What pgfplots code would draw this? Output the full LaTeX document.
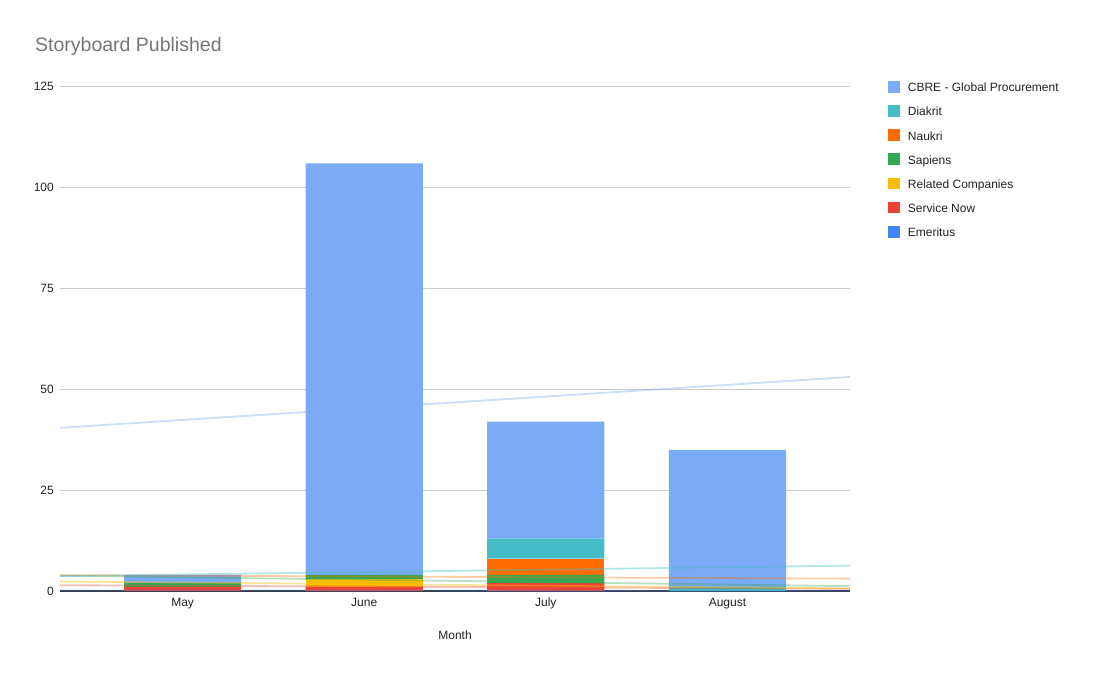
\documentclass[border=0pt]{standalone}
\usepackage{pgfplots}
\pgfplotsset{compat=1.18}
\usepackage{fontspec}
\setmainfont{Liberation Sans}
\definecolor{cbre}{HTML}{7BAAF7}
\definecolor{diakrit}{HTML}{46BDC6}
\definecolor{naukri}{HTML}{FF6D01}
\definecolor{sapiens}{HTML}{34A853}
\definecolor{related}{HTML}{FBBC04}
\definecolor{servicenow}{HTML}{EA4335}
\definecolor{emeritus}{HTML}{4285F4}
\definecolor{titlegray}{HTML}{757575}
\definecolor{gridgray}{HTML}{CCCCCC}
\definecolor{axisdark}{HTML}{333333}
\definecolor{textdark}{HTML}{222222}
\begin{document}
\begin{tikzpicture}[x=1bp,y=1bp]
\useasboundingbox (0,0) rectangle (1096,-677);
\node[anchor=base west, text=titlegray, font=\fontsize{19.5bp}{22bp}\selectfont, inner sep=0pt] at (35,-51.7) {Storyboard Published};
\begin{axis}[
  at={(60bp,-591bp)}, anchor=south west,
  scale only axis, width=790bp, height=504.3bp,
  xmin=-0.675, xmax=3.675, ymin=0, ymax=125,
  enlargelimits=false,
  ybar stacked, bar width=0.645,
  xtick={0,1,2,3}, xticklabels={May,June,July,August},
  ytick={0,25,50,75,100,125},
  ymajorgrids, grid style={draw=gridgray, line width=0.8bp},
  axis line style={draw=none},
  major tick length=0pt,
  tick label style={font=\fontsize{12bp}{14bp}\selectfont, text=textdark},
  yticklabel style={anchor=east, inner sep=0pt, xshift=-6bp},
  xticklabel style={anchor=base, inner sep=0pt, yshift=-15.7bp},
  /pgf/number format/assume math mode=true,
  extra y ticks={0}, extra y tick labels={},
  extra y tick style={grid style={draw=axisdark, line width=1.1bp}},
  xlabel={Month},
  xlabel style={at={(axis description cs:0.5,0)}, anchor=center, yshift=-44bp, inner sep=0pt, font=\fontsize{12bp}{14bp}\selectfont, text=textdark},
  legend style={at={(axis description cs:1.0481,1)}, anchor=north west, yshift=8.6bp,
    draw=none, fill=none, inner sep=0pt, row sep=8.25bp, column sep=8bp,
    font=\fontsize{12bp}{14bp}\selectfont, text=textdark,
    nodes={inner sep=0pt, text depth=2.5bp, text height=9bp}},
  legend cell align=left,
  reverse legend,
  legend image code/.code={\path[draw=none, fill=none] (0bp,-1.55bp) rectangle (11.7bp,10.15bp);
    \fill[#1, overlay] (0bp,-4.25bp) rectangle (11.7bp,7.45bp);},
]
\addplot[draw=none, fill=emeritus] coordinates {(0,0) (1,0) (2,0) (3,0)};
\addplot[draw=none, fill=servicenow] coordinates {(0,1) (1,1) (2,2) (3,0)};
\addplot[draw=none, fill=related] coordinates {(0,0) (1,2) (2,0) (3,0)};
\addplot[draw=none, fill=sapiens] coordinates {(0,1) (1,1) (2,2) (3,0)};
\addplot[draw=none, fill=naukri] coordinates {(0,0) (1,0) (2,4) (3,0)};
\addplot[draw=none, fill=diakrit] coordinates {(0,0) (1,0) (2,5) (3,1)};
\addplot[draw=none, fill=cbre] coordinates {(0,2) (1,102) (2,29) (3,34)};
\legend{Emeritus,Service Now,Related Companies,Sapiens,Naukri,Diakrit,CBRE - Global Procurement}
\end{axis}
\begin{axis}[
  at={(60bp,-591bp)}, anchor=south west,
  scale only axis, width=790bp, height=504.3bp,
  xmin=-0.675, xmax=3.675, ymin=0, ymax=125,
  enlargelimits=false, hide axis,
]
\addplot[emeritus, opacity=0.35, line width=1.8bp] coordinates {(-0.675,0.15) (3.675,0.05)};
\addplot[servicenow, opacity=0.35, line width=1.8bp] coordinates {(-0.675,1.435) (3.675,0.565)};
\addplot[related, opacity=0.4, line width=1.8bp] coordinates {(-0.675,2.37) (3.675,0.63)};
\addplot[sapiens, opacity=0.35, line width=1.8bp] coordinates {(-0.675,3.805) (3.675,1.195)};
\addplot[naukri, opacity=0.35, line width=1.8bp] coordinates {(-0.675,3.935) (3.675,3.065)};
\addplot[diakrit, opacity=0.4, line width=1.8bp] coordinates {(-0.675,3.695) (3.675,6.305)};
\addplot[cbre, opacity=0.4, line width=1.8bp] coordinates {(-0.675,40.44) (3.675,53.06)};
\end{axis}
\end{tikzpicture}
\end{document}
